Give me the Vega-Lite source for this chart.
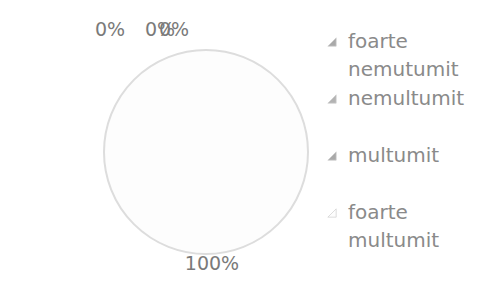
{
  "$schema": "https://vega.github.io/schema/vega-lite/v6.json",
  "width": 412,
  "height": 304,
  "autosize": {"type": "none"},
  "padding": {"left": 0, "top": 0, "right": 81, "bottom": 0},
  "background": "white",
  "config": {
    "view": {"stroke": null},
    "font": "DejaVu Sans",
    "style": {"guide-label": {"lineHeight": 28}}
  },
  "data": {
    "values": [
      {"category": "foarte nemutumit", "value": 0, "label": "0%"},
      {"category": "nemultumit", "value": 0, "label": "0%"},
      {"category": "multumit", "value": 0, "label": "0%"},
      {"category": "foarte multumit", "value": 100, "label": "100%"}
    ]
  },
  "layer": [
    {
      "mark": {"type": "arc", "outerRadius": 102, "stroke": "#dddddd", "strokeWidth": 2},
      "encoding": {
        "theta": {"field": "value", "type": "quantitative", "stack": true},
        "color": {
          "field": "category",
          "type": "nominal",
          "sort": ["foarte nemutumit", "nemultumit", "multumit", "foarte multumit"],
          "scale": {
            "domain": ["foarte nemutumit", "nemultumit", "multumit", "foarte multumit"],
            "range": ["#a9a9a9", "#b3b3b3", "#a9a9a9", "#fdfdfd"]
          },
          "legend": {
            "title": null,
            "orient": "none",
            "legendX": 322,
            "legendY": 32,
            "symbolType": "M1,1L1,-1L-1,1Z",
            "symbolSize": 70,
            "symbolStrokeColor": "#cfcfcf",
            "symbolStrokeWidth": 0.7,
            "labelFont": "DejaVu Sans",
            "labelFontSize": 20,
            "labelColor": "#8a8a8a",
            "labelOffset": 6,
            "labelLimit": 200,
            "rowPadding": 9,
            "labelExpr": "datum.label == 'foarte nemutumit' ? ['foarte', 'nemutumit'] : datum.label == 'foarte multumit' ? ['foarte', 'multumit'] : [datum.label, '']",
            "encode": {"labels": {"enter": {"lineHeight": {"value": 28}}, "update": {"lineHeight": {"value": 28}}}}
          }
        }
      }
    },
    {
      "transform": [{"filter": "datum.category == 'foarte nemutumit'"}],
      "mark": {"type": "text", "radius": 122, "dx": -96, "fontSize": 19, "color": "#7a7a7a", "font": "DejaVu Sans"},
      "encoding": {
        "theta": {"field": "value", "type": "quantitative", "stack": true},
        "text": {"field": "label"}
      }
    },
    {
      "transform": [{"filter": "datum.category == 'nemultumit'"}],
      "mark": {"type": "text", "radius": 122, "dx": -46, "fontSize": 19, "color": "#7a7a7a", "font": "DejaVu Sans"},
      "encoding": {
        "theta": {"field": "value", "type": "quantitative", "stack": true},
        "text": {"field": "label"}
      }
    },
    {
      "transform": [{"filter": "datum.category == 'multumit'"}],
      "mark": {"type": "text", "radius": 122, "dx": -32, "fontSize": 19, "color": "#7a7a7a", "font": "DejaVu Sans"},
      "encoding": {
        "theta": {"field": "value", "type": "quantitative", "stack": true},
        "text": {"field": "label"}
      }
    },
    {
      "transform": [{"filter": "datum.category == 'foarte multumit'"}],
      "mark": {"type": "text", "radius": 112, "dx": 6, "fontSize": 19, "color": "#7a7a7a", "font": "DejaVu Sans"},
      "encoding": {
        "theta": {"field": "value", "type": "quantitative", "stack": true},
        "text": {"field": "label"}
      }
    }
  ]
}
